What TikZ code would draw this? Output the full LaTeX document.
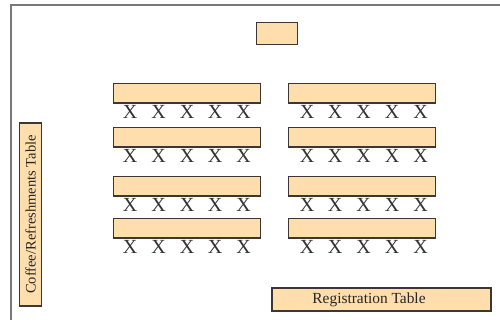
\documentclass[tikz,border=0pt]{standalone}
\usepackage{fontspec}
\setmainfont{Liberation Serif}
\definecolor{tblfill}{RGB}{253,222,172}
\definecolor{tbledge}{RGB}{60,55,50}
\definecolor{framegray}{RGB}{120,120,120}
\begin{document}
\begin{tikzpicture}[x=1pt,y=-1pt,
  tbl/.style={draw=tbledge, fill=tblfill, line width=1.3pt, inner sep=0pt, anchor=north west},
  seat/.style={font=\fontsize{20}{20}\selectfont, inner sep=0pt, anchor=base, text=black!80},
  lbl/.style={font=\fontsize{14.5}{15}\selectfont, text=black!85}]
\useasboundingbox (0,0) rectangle (500,320);
\fill[white] (0,0) rectangle (500,320);
% room frame
\draw[framegray, line width=2pt] (11,322) -- (11,5) -- (502,5);
% podium
\node[tbl, minimum width=41pt, minimum height=22pt] (podium) at (256,22) {};
% table rows
\foreach \r/\t in {1/83, 2/127, 3/176, 4/218} {
  \node[tbl, minimum width=147pt, minimum height=19.5pt] (L\r) at (113,\t) {};
  \node[tbl, minimum width=147pt, minimum height=19.5pt] (R\r) at (288,\t) {};
  \foreach \i/\x in {1/130, 2/158.5, 3/187, 4/215, 5/243.5} {
    \node[seat] (L\r s\i) at (\x,\t+35.5) {X};
  }
  \foreach \i/\x in {1/307, 2/335, 3/363.5, 4/392, 5/420.5} {
    \node[seat] (R\r s\i) at (\x,\t+35.5) {X};
  }
}
% coffee table
\node[tbl, lbl, minimum width=183pt, minimum height=22pt, rotate=90, anchor=center] (coffee) at (30.5,214.5) {Coffee/Refreshments Table};
% registration table
\node[tbl, lbl, font=\fontsize{15.4}{16}\selectfont, minimum width=219pt, minimum height=23pt, anchor=center] (reg) at (381.5,299.5) {Registration Table\kern25pt\relax};
\end{tikzpicture}
\end{document}
